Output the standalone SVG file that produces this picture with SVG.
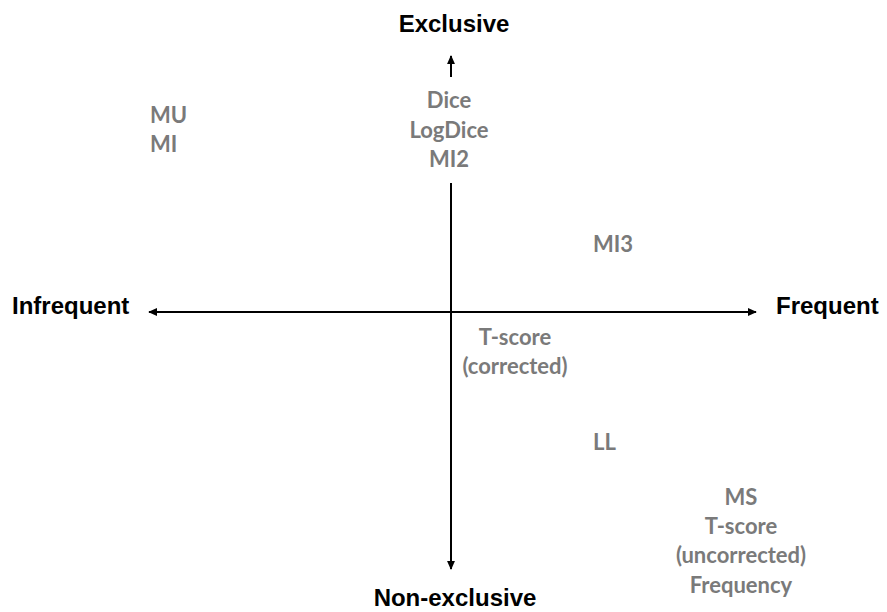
<svg xmlns="http://www.w3.org/2000/svg" width="887" height="612" viewBox="0 0 887 612">
<style>
.ax{font-family:"Liberation Sans",Arial,sans-serif;font-weight:bold;font-size:24px;fill:#000}
.g{font-family:Lato,"Liberation Sans",sans-serif;font-weight:bold;font-size:22px;fill:#7a7a7a}
.c{text-anchor:middle}
.ln{stroke:#000;stroke-width:2;fill:none}
</style>
<defs>
<marker id="ah" viewBox="0 0 10 10" refX="9" refY="5" markerWidth="9" markerHeight="8" orient="auto-start-reverse" markerUnits="userSpaceOnUse" preserveAspectRatio="none">
<path d="M0,0 L10,5 L0,10 z" fill="#000"/>
</marker>
</defs>
<rect width="887" height="612" fill="#fff"/>
<g id="connectors">
<line class="ln" x1="149" y1="312" x2="756" y2="312" marker-start="url(#ah)" marker-end="url(#ah)"/>
<line class="ln" x1="451" y1="183" x2="451" y2="569" marker-end="url(#ah)"/>
<line class="ln" x1="451" y1="77" x2="451" y2="56" marker-end="url(#ah)"/>
</g>
<g id="exclusive"><text class="ax c" x="454" y="32">Exclusive</text></g>
<g id="nonexclusive"><text class="ax c" x="455" y="606">Non-exclusive</text></g>
<g id="infrequent"><text class="ax" x="12" y="314">Infrequent</text></g>
<g id="frequent"><text class="ax" x="776" y="314">Frequent</text></g>
<g id="dice"><text class="g c" x="449" y="108">Dice</text><text class="g c" x="449" y="138">LogDice</text><text class="g c" x="449" y="167">MI2</text></g>
<g id="mu"><text class="g" x="150" y="123">MU</text><text class="g" x="150" y="152">MI</text></g>
<g id="mi3"><text class="g" x="593" y="252">MI3</text></g>
<g id="tscore"><text class="g c" x="515" y="345">T-score</text><text class="g c" x="515" y="374">(corrected)</text></g>
<g id="ll"><text class="g" x="593" y="450">LL</text></g>
<g id="ms"><text class="g c" x="741" y="505">MS</text><text class="g c" x="741" y="534">T-score</text><text class="g c" x="741" y="563">(uncorrected)</text><text class="g c" x="741" y="593">Frequency</text></g>
</svg>
